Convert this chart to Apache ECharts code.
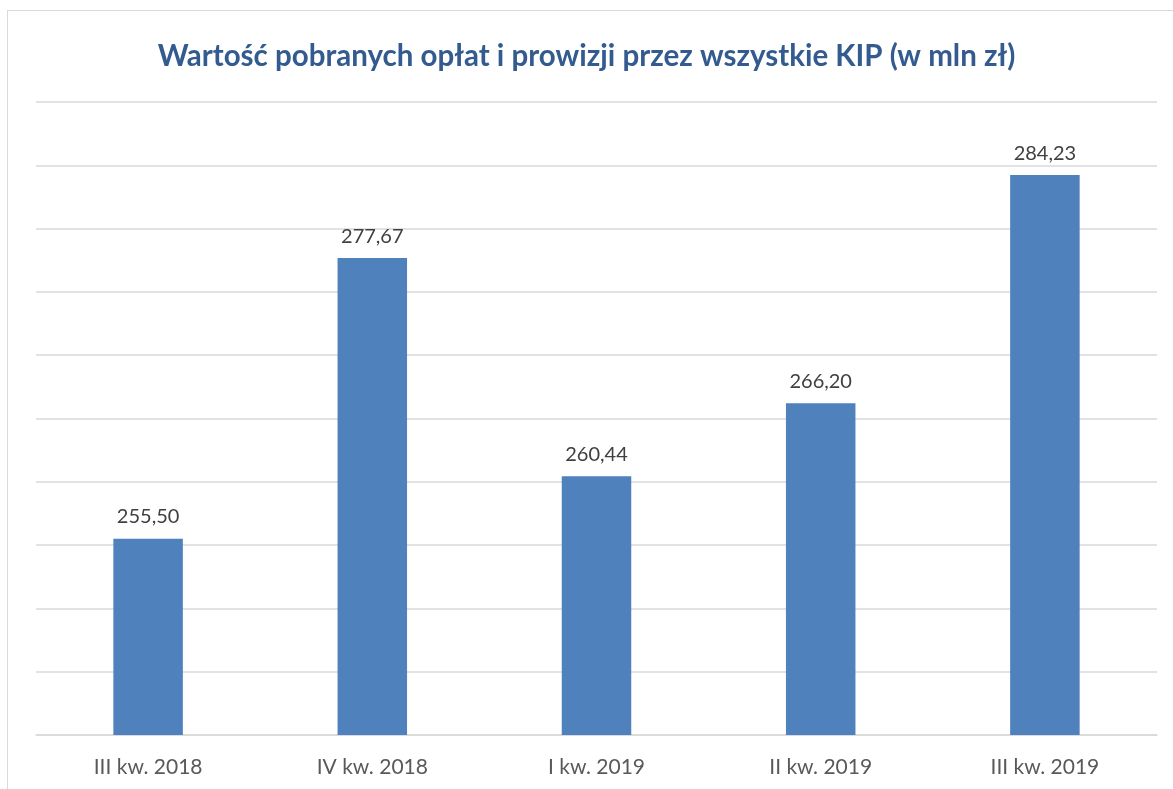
<!DOCTYPE html>
<html lang="pl">
<head>
    <meta charset="UTF-8">
    <title>Wartość pobranych opłat</title>
    <script src="https://cdn.jsdelivr.net/npm/echarts@6/dist/echarts.min.js"></script>
    <style>
        body { margin: 0; background: #fff; }
        #frame { position: absolute; left: 7px; top: 10px; width: 1200px; height: 820px; border: 1.5px solid #d9d9d9; }
        #myChart { position: absolute; left: 0; top: 0; width: 1173px; height: 789px; }
    </style>
</head>
<body>
<div id="frame"></div>
<div id="myChart"></div>
<script type="text/javascript">
    // dane z wykresu
    var kwartaly = ['III kw. 2018', 'IV kw. 2018', 'I kw. 2019', 'II kw. 2019', 'III kw. 2019'];
    var wartosci = [255.50, 277.67, 260.44, 266.20, 284.23];
    var tytul = 'Wartość pobranych opłat i prowizji przez wszystkie KIP (w mln zł)';

    var myChart = echarts.init(document.getElementById('myChart'));
    myChart.setOption({
        animation: false,
        title: {
            text: tytul,
            left: 'center',
            top: 36,
            textStyle: { fontFamily: 'Lato', fontWeight: 'bold', fontSize: 29.5, color: '#335b8f' }
        },
        grid: { left: 36, right: 16, top: 102, bottom: 54 },
        xAxis: {
            type: 'category',
            data: kwartaly,
            axisLine: { lineStyle: { color: '#d9d9d9', width: 1.5 } },
            axisTick: { show: false },
            axisLabel: { fontFamily: 'Lato', fontSize: 21, color: '#595959', margin: 22 }
        },
        yAxis: {
            type: 'value',
            min: 240,
            max: 290,
            interval: 5,
            axisLabel: { show: false },
            axisLine: { show: false },
            axisTick: { show: false },
            splitLine: { lineStyle: { color: '#d9d9d9', width: 1.5 } }
        },
        series: [{
            type: 'bar',
            data: wartosci,
            barWidth: '31%',
            itemStyle: { color: '#4f81bd' },
            label: {
                show: true,
                position: 'top',
                distance: 12,
                fontFamily: 'Lato',
                fontSize: 20,
                color: '#404040',
                formatter: function (p) { return p.value.toFixed(2).replace('.', ','); }
            }
        }]
    });
</script>
</body>
</html>
